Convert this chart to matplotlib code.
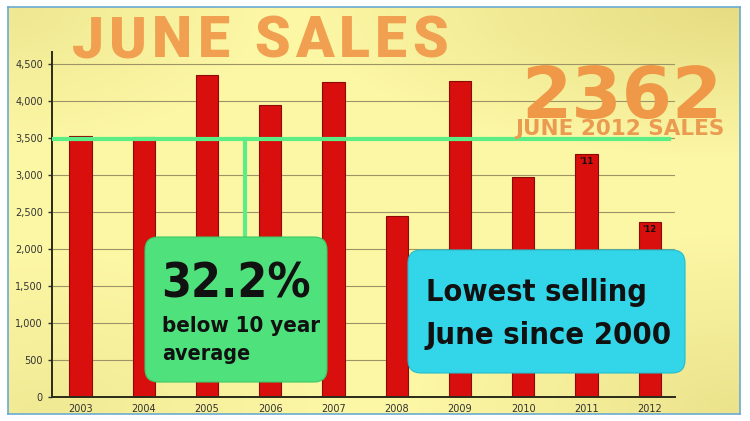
import numpy as np
import matplotlib
matplotlib.use("Agg")
import matplotlib.pyplot as plt
from matplotlib import font_manager as fm
from matplotlib.patches import FancyBboxPatch

years = ["2003", "2004", "2005", "2006", "2007", "2008", "2009", "2010", "2011", "2012"]
sales = [3530, 3510, 4350, 3950, 4260, 2440, 4270, 2970, 3280, 2362]
bar_tags = {8: "'11", 9: "'12"}
ten_year_avg = 3484
yticks = [0, 500, 1000, 1500, 2000, 2500, 3000, 3500, 4000, 4500]

W, H = 750, 421
fig = plt.figure(figsize=(W / 100, H / 100), dpi=100)
fig.patch.set_facecolor("white")

# yellow background with darker corners
bg = fig.add_axes([8 / W, 7 / H, 732 / W, 407 / H], zorder=0)
gx, gy = np.meshgrid(np.linspace(0, 1, 300), np.linspace(0, 1, 200))
dark = 0.6 * np.clip(1 - np.hypot(gx - 1.0, (gy - 0.0) * 1.6) / 0.6, 0, 1)
dark += 0.35 * np.clip(1 - np.hypot(gx - 0.0, gy - 0.0) / 0.35, 0, 1)
dark += 0.45 * np.clip(1 - np.hypot(gx - 1.0, gy - 1.0) / 0.45, 0, 1)
dark += 0.30 * np.clip(1 - np.hypot(gx - 0.05, gy - 1.0) / 0.4, 0, 1)
light = np.array([0.99, 0.97, 0.65])
shade = np.array([0.84, 0.79, 0.42])
img = light[None, None, :] * (1 - dark[..., None]) + shade[None, None, :] * dark[..., None]
bg.imshow(np.clip(img, 0, 1), aspect="auto", extent=(0, 1, 0, 1), origin="upper")
bg.set_xticks([])
bg.set_yticks([])
for s in bg.spines.values():
    s.set_color("#6aaad2")
    s.set_linewidth(1.2)

# main chart
ax = fig.add_axes([52 / W, 24 / H, 623 / W, 345 / H], zorder=1)
ax.patch.set_alpha(0)
x = np.arange(len(years))
for v in yticks[1:]:
    ax.axhline(v, color="#9c9466", lw=0.8, zorder=1)
ax.bar(x, sales, width=0.35, color="#d80f0c", edgecolor="#8c0a06", lw=0.8, zorder=2)
for i, t in bar_tags.items():
    ax.text(x[i], sales[i] - 40, t, ha="center", va="top", fontsize=6,
            fontweight="bold", color="#111111", zorder=3)
ax.axhline(ten_year_avg, xmax=0.99, color="#5cee86", lw=3, zorder=4)
ax.plot([2.6, 2.6], [ten_year_avg, 2160], color="#5cee86", lw=3, zorder=4)

ax.set_xlim(-0.45, 9.4)
ax.set_ylim(0, 4660)
ax.set_xticks(x)
ax.set_xticklabels(years)
ax.set_yticks(yticks)
ax.set_yticklabels([f"{v:,}" for v in yticks])
ax.tick_params(axis="both", labelsize=7, colors="#333333", length=3, width=1)
ax.tick_params(axis="x", length=0, pad=5)
for side in ("top", "right"):
    ax.spines[side].set_visible(False)
for side in ("left", "bottom"):
    ax.spines[side].set_color("#2a2a1a")
    ax.spines[side].set_linewidth(1.4)

# overlay in pixel coordinates
ov = fig.add_axes([0, 0, 1, 1], zorder=5)
ov.set_xlim(0, W)
ov.set_ylim(H, 0)
ov.axis("off")
ov.patch.set_alpha(0)
renderer = fig.canvas.get_renderer()


def find_narrow_bold():
    best = None
    for f in fm.fontManager.ttflist:
        w = f.weight if isinstance(f.weight, int) else (700 if "bold" in str(f.weight) else 400)
        tag = (f.name + " " + f.fname).lower()
        narrow = ("narrow" in tag or "condensed" in tag or f.stretch in
                  ("condensed", "semi-condensed", "extra-condensed"))
        if narrow and w >= 600 and "italic" not in tag and "oblique" not in tag:
            if "semicondensed" in tag.replace("-", "").replace(" ", ""):
                continue
            if best is None or "liberation" in tag:
                best = f.fname
    return best


narrow_path = find_narrow_bold()


def fitted(x0, y0, s, width, size, **kw):
    if narrow_path:
        fp = fm.FontProperties(fname=narrow_path, size=size)
    else:
        fp = fm.FontProperties(family="Liberation Sans", weight="bold", size=size)
    t = ov.text(x0, y0, s, fontproperties=fp, va="baseline", **kw)
    w = t.get_window_extent(renderer).width
    t.set_fontsize(size * width / w)
    return t


def tracked(x0, y0, s, width, **kw):
    # letter-spaced text that spans the given width
    parts = [ov.text(0, y0, ch, va="baseline", **kw) for ch in s]
    widths = [p.get_window_extent(renderer).width for p in parts]
    track = (width - sum(widths)) / (len(s) - 1)
    for p, w in zip(parts, widths):
        p.set_x(x0)
        x0 += w + track


orange = "#f0a050"
tracked(72, 57, "JUNE SALES", 376, fontsize=41, fontweight=900, color=orange,
        family=["Roboto", "Liberation Sans"])
ov.text(521, 118, "2362", fontsize=52, fontweight="bold", color="#ee9848",
        family="DejaVu Sans", va="baseline")
ov.text(515, 135, "JUNE 2012 SALES", fontsize=15.5, fontweight="bold", color="#eb9a52",
        family="DejaVu Sans", va="baseline")

ov.add_patch(FancyBboxPatch((145, 237), 182, 145, boxstyle="round,pad=0,rounding_size=13",
                            fc="#4fe27c", ec="#3cc865", lw=0.8))
fitted(161, 297, "32.2%", 150, 43, color="#111111")
fitted(162, 332, "below 10 year", 158, 24, color="#111111")
fitted(162, 360, "average", 88, 24, color="#111111")

ov.add_patch(FancyBboxPatch((408, 250), 277, 123, boxstyle="round,pad=0,rounding_size=13",
                            fc="#33d6e8", ec="#25bccc", lw=0.8))
fitted(426, 301, "Lowest selling", 222, 27, color="#111111")
fitted(426, 344, "June since 2000", 246, 27, color="#111111")

fig.savefig("out.png", dpi=100, facecolor="white")
